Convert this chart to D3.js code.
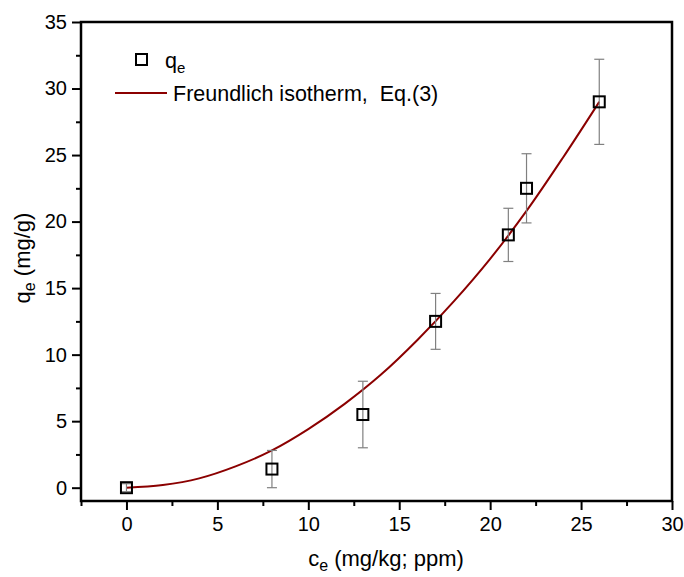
<!DOCTYPE html>
<html>
<head>
<meta charset="utf-8">
<script src="https://cdn.jsdelivr.net/npm/d3@7"></script>
<style>
  body { margin: 0; background: #fff; }
  text { font-family: Arial, "Liberation Sans", sans-serif; fill: #000; }
</style>
</head>
<body>
<div id="chart"></div>
<script>
/* ------------------------- Data ------------------------- */
var ce = [0, 8, 13, 17, 21, 22, 26];
var qe = [0, 1.4, 5.5, 12.5, 19, 22.5, 29];
var qeErr = [0.3, 1.4, 2.5, 2.1, 2.0, 2.6, 3.2];

/* Freundlich fit curve */
var fitCe = [0, 2, 4, 6, 8, 10, 12, 14, 16, 18, 20, 22, 24, 26];
var fitQe = [0, 0.2, 0.7, 1.6, 2.8, 4.4, 6.3, 8.5, 11.1, 14.0, 17.2, 20.8, 24.8, 29.0];

var xTicks = [0, 5, 10, 15, 20, 25, 30];
var yTicks = [0, 5, 10, 15, 20, 25, 30, 35];

/* ------------------------- Layout ------------------------- */
var W = 684, H = 577;
var margin = {top: 22, right: 12, bottom: 76, left: 81},
    width = W - margin.left - margin.right,
    height = H - margin.top - margin.bottom;

var x = d3.scaleLinear().domain([-2.5, 30]).range([0, width]);
var y = d3.scaleLinear().domain([-1, 35]).range([height, 0]);

var svg = d3.select("#chart").append("svg")
    .attr("width", W)
    .attr("height", H);

var chart = svg.append("g")
    .attr("transform", "translate(" + margin.left + "," + margin.top + ")");

/* Axes: major + minor ticks, outward */
var xAxis = d3.axisBottom(x).tickValues(xTicks).tickSize(9).tickPadding(7);
var xMinor = d3.axisBottom(x).tickValues(d3.range(-2.5, 30, 5)).tickSize(5).tickFormat("");
var yAxis = d3.axisLeft(y).tickValues(yTicks).tickSize(9).tickPadding(5);
var yMinor = d3.axisLeft(y).tickValues(d3.range(2.5, 35, 5)).tickSize(5).tickFormat("");

function styleAxis(g) {
    g.select(".domain").remove();
    g.selectAll("line").attr("stroke", "#000").attr("stroke-width", 2);
    g.selectAll("text").attr("font-size", 20).attr("font-family", "Arial, 'Liberation Sans', sans-serif");
}

chart.append("g").attr("transform", "translate(0," + height + ")").call(xAxis).call(styleAxis);
chart.append("g").attr("transform", "translate(0," + height + ")").call(xMinor).call(styleAxis);
chart.append("g").call(yAxis).call(styleAxis);
chart.append("g").call(yMinor).call(styleAxis);

/* Frame */
chart.append("rect")
    .attr("width", width)
    .attr("height", height)
    .attr("fill", "none")
    .attr("stroke", "#000")
    .attr("stroke-width", 2.5);

/* Fit curve */
var line = d3.line()
    .x(function(d, i) { return x(fitCe[i]); })
    .y(function(d) { return y(d); })
    .curve(d3.curveCatmullRom);

chart.append("path")
    .datum(fitQe)
    .attr("fill", "none")
    .attr("stroke", "#8b0000")
    .attr("stroke-width", 2)
    .attr("d", line);

/* Error bars */
var pts = ce.map(function(c, i) { return {c: c, q: qe[i], e: qeErr[i]}; });
var cap = 5;

var eb = chart.append("g").attr("stroke", "#808080").attr("stroke-width", 1.2);
eb.selectAll(".stem").data(pts).enter().append("line")
    .attr("x1", function(d) { return x(d.c); })
    .attr("x2", function(d) { return x(d.c); })
    .attr("y1", function(d) { return y(d.q - d.e); })
    .attr("y2", function(d) { return y(d.q + d.e); });
eb.selectAll(".capTop").data(pts).enter().append("line")
    .attr("x1", function(d) { return x(d.c) - cap; })
    .attr("x2", function(d) { return x(d.c) + cap; })
    .attr("y1", function(d) { return y(d.q + d.e); })
    .attr("y2", function(d) { return y(d.q + d.e); });
eb.selectAll(".capBot").data(pts).enter().append("line")
    .attr("x1", function(d) { return x(d.c) - cap; })
    .attr("x2", function(d) { return x(d.c) + cap; })
    .attr("y1", function(d) { return y(d.q - d.e); })
    .attr("y2", function(d) { return y(d.q - d.e); });

/* Markers: open squares */
var sq = 11;
chart.selectAll(".pt").data(pts).enter().append("rect")
    .attr("x", function(d) { return x(d.c) - sq / 2; })
    .attr("y", function(d) { return y(d.q) - sq / 2; })
    .attr("width", sq)
    .attr("height", sq)
    .attr("fill", "none")
    .attr("stroke", "#000")
    .attr("stroke-width", 2);

/* Legend */
svg.append("rect")
    .attr("x", 136).attr("y", 54)
    .attr("width", 11).attr("height", 11)
    .attr("fill", "none").attr("stroke", "#000").attr("stroke-width", 2);
var lg1 = svg.append("text").attr("x", 165).attr("y", 68).attr("font-size", 21.5);
lg1.append("tspan").text("q");
lg1.append("tspan").attr("font-size", 15).attr("dy", 5).text("e");

svg.append("line")
    .attr("x1", 115).attr("x2", 167)
    .attr("y1", 93).attr("y2", 93)
    .attr("stroke", "#8b0000").attr("stroke-width", 2);
svg.append("text")
    .attr("x", 173).attr("y", 100.5)
    .attr("font-size", 21.5)
    .attr("xml:space", "preserve")
    .style("white-space", "pre")
    .text("Freundlich isotherm,  Eq.(3)");

/* Axis titles */
var xt = svg.append("text")
    .attr("x", 386).attr("y", 566)
    .attr("text-anchor", "middle")
    .attr("font-size", 22);
xt.append("tspan").text("c");
xt.append("tspan").attr("font-size", 16).attr("dy", 5).text("e");
xt.append("tspan").attr("dy", -5).text(" (mg/kg; ppm)");

var yt = svg.append("text")
    .attr("transform", "translate(30,258)rotate(-90)")
    .attr("text-anchor", "middle")
    .attr("font-size", 22);
yt.append("tspan").text("q");
yt.append("tspan").attr("font-size", 16).attr("dy", 5).text("e");
yt.append("tspan").attr("dy", -5).text(" (mg/g)");
</script>
</body>
</html>
